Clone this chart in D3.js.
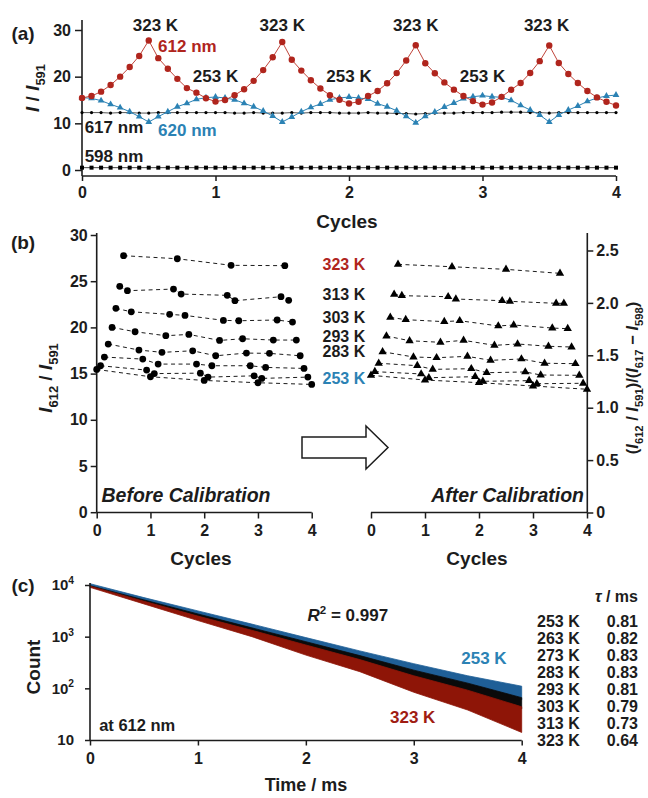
<!DOCTYPE html>
<html><head><meta charset="utf-8">
<script src="https://cdn.jsdelivr.net/npm/d3@7"></script>
<style>
body{margin:0;background:#fff}
svg text{font-family:"Liberation Sans",Arial,Helvetica,sans-serif;font-weight:bold}
</style></head>
<body><svg id="c" width="648" height="798"></svg>
<script>
// ---------------- DATA ----------------
const stepsPerCycle = 14;
const temps = [253, 263, 273, 283, 293, 303, 313, 323];
// (a) I/I591 at 612 nm (also panel b, before calibration)
const ratio612 = [
  15.45, 15.85, 16.79, 18.20, 20.00, 22.06, 24.44, 27.76, 23.97, 21.69, 19.53, 17.55, 16.57, 15.38,
  14.66, 15.00, 16.03, 17.30, 19.10, 21.41, 24.15, 27.43, 23.61, 21.30, 19.24, 17.47, 16.03, 15.05,
  14.26, 14.62, 15.85, 16.93, 18.59, 20.76, 23.47, 26.72, 22.89, 20.72, 18.77, 17.22, 15.85, 14.76,
  14.01, 14.48, 15.67, 17.19, 18.63, 20.80, 23.32, 26.68, 22.93, 20.58, 18.63, 16.93, 15.56, 14.62,
  13.83];
const ratio620 = [
  15.50, 15.36, 14.86, 14.07, 13.36, 12.50, 11.43, 10.29, 11.43, 12.50, 13.57, 14.29, 15.14, 15.50,
  15.64, 15.43, 15.07, 14.29, 13.57, 12.64, 11.57, 10.29, 11.36, 12.50, 13.43, 14.14, 15.07, 15.43,
  15.64, 15.43, 15.21, 14.21, 13.57, 12.71, 11.50, 10.14, 11.50, 12.43, 13.50, 14.36, 15.29, 15.71,
  15.93, 15.71, 15.57, 14.93, 13.86, 12.86, 11.79, 10.29, 11.79, 12.86, 13.71, 14.71, 15.43, 15.86,
  16.07];
const ratio617 = [
  12.3, 12.3, 12.3, 12.2, 12.3, 12.3, 12.2, 12.2, 12.3, 12.3, 12.3, 12.3, 12.3, 12.3,
  12.3, 12.3, 12.2, 12.2, 12.3, 12.2, 12.2, 12.2, 12.3, 12.2, 12.3, 12.3, 12.3, 12.2,
  12.2, 12.2, 12.3, 12.2, 12.2, 12.1, 12.1, 12.0, 12.1, 12.2, 12.2, 12.2, 12.3, 12.3,
  12.3, 12.3, 12.4, 12.4, 12.4, 12.3, 12.3, 12.2, 12.3, 12.3, 12.3, 12.3, 12.3, 12.3,
  12.3];
const ratio598 = [
  0.5, 0.5, 0.5, 0.5, 0.5, 0.5, 0.5, 0.5, 0.5, 0.5, 0.5, 0.5, 0.5, 0.5,
  0.5, 0.5, 0.5, 0.5, 0.5, 0.5, 0.5, 0.5, 0.5, 0.5, 0.5, 0.5, 0.5, 0.5,
  0.5, 0.5, 0.5, 0.5, 0.5, 0.5, 0.5, 0.5, 0.5, 0.5, 0.5, 0.5, 0.5, 0.5,
  0.5, 0.5, 0.5, 0.5, 0.5, 0.5, 0.5, 0.5, 0.5, 0.5, 0.5, 0.5, 0.5, 0.5,
  0.5];
// (b) after calibration (I612/I591)/(I617-I598)
const calibrated = [
  1.309, 1.344, 1.424, 1.534, 1.684, 1.862, 2.082, 2.368, 2.069, 1.840, 1.639, 1.484, 1.401, 1.322,
  1.264, 1.286, 1.366, 1.477, 1.624, 1.821, 2.059, 2.345, 2.037, 1.830, 1.643, 1.490, 1.372, 1.296,
  1.239, 1.252, 1.334, 1.452, 1.595, 1.780, 2.021, 2.320, 2.015, 1.789, 1.608, 1.465, 1.341, 1.258,
  1.207, 1.229, 1.312, 1.424, 1.586, 1.760, 1.996, 2.282, 1.996, 1.754, 1.579, 1.420, 1.309, 1.233,
  1.176];
const labelledTemps = [323, 313, 303, 293, 283, 253];
// (c) decay envelopes (counts) at sampled times
const decayTime   = [0, 0.5, 1, 1.5, 2, 2.5, 3, 3.5, 4];
const band253Hi   = [10600, 5700, 3150, 1750, 960, 530, 300, 175, 110];
const band253Lo   = [9500, 4950, 2650, 1430, 760, 410, 215, 120, 60];
const bandMidHi   = [9700, 5150, 2750, 1480, 800, 430, 225, 126, 66];
const bandMidLo   = [9300, 4700, 2400, 1250, 640, 330, 162, 84, 40];
const band323Hi   = [9500, 4850, 2500, 1330, 690, 360, 175, 92, 44];
const band323Lo   = [9000, 4300, 2050, 1000, 440, 210, 84, 38, 14];
const tableTemps  = [253, 263, 273, 283, 293, 303, 313, 323];
const tau         = [0.81, 0.82, 0.83, 0.83, 0.81, 0.79, 0.73, 0.64];
const xTicks = [0, 1, 2, 3, 4];
const yTicksA = [0, 10, 20, 30];
const yTicksBL = [0, 5, 10, 15, 20, 25, 30];
const yTicksBR = [0, 0.5, 1.0, 1.5, 2.0, 2.5];
const yTicksC = [10, 100, 1000, 10000];

// ---------------- HELPERS ----------------
const INK = "#1c1c1c", RED = "#b0251d", BLUE = "#2b82b4";
const svg = d3.select("#c");
const cyc = i => i / stepsPerCycle;
const tempOf = i => { const p = i % stepsPerCycle; return temps[p <= 7 ? p : stepsPerCycle - p]; };

function rich(parent, x, y, parts, o = {}) {
  const size = o.size || 17;
  const t = parent.append("text")
    .attr("font-size", size).attr("text-anchor", o.anchor || "start").attr("fill", o.fill || INK)
    .attr("transform", `translate(${x},${y}) rotate(${o.rotate || 0}) translate(0,${0.36 * size})`);
  let shift = 0;
  parts.forEach(p => {
    const ts = t.append("tspan").text(p.t);
    if (p.it) ts.attr("font-style", "italic");
    const target = p.sub ? size * 0.32 : p.sup ? -size * 0.42 : 0;
    if (target !== shift) { ts.attr("dy", target - shift); shift = target; }
    if (p.sub || p.sup) ts.attr("font-size", size * 0.68);
  });
  return t;
}
function line(x1, y1, x2, y2, w = 1.6) {
  svg.append("line").attr("x1", x1).attr("y1", y1).attr("x2", x2).attr("y2", y2)
    .attr("stroke", INK).attr("stroke-width", w);
}
function styleAxis(g, size) {
  g.select(".domain").remove();
  g.selectAll(".tick line").attr("stroke", INK).attr("stroke-width", 1.5);
  g.selectAll("text").attr("font-size", size).attr("fill", INK)
    .attr("font-family", '"Liberation Sans",Arial,sans-serif').attr("font-weight", "bold");
}

// ---------------- PANEL (a) ----------------
const xA = d3.scaleLinear([0, 4], [82, 616]);
const yA = d3.scaleLinear([0, 30], [170, 30]);
line(82, 176, 616, 176); line(82, 176, 82, 20);
styleAxis(svg.append("g").attr("transform", "translate(0,176)")
  .call(d3.axisBottom(xA).tickValues(xTicks).tickFormat(d3.format("d")).tickSize(5).tickPadding(6).tickSizeOuter(0)), 16);
styleAxis(svg.append("g").attr("transform", "translate(82,0)")
  .call(d3.axisLeft(yA).tickValues(yTicksA).tickFormat(d3.format("d")).tickSize(7).tickPadding(4).tickSizeOuter(0)), 16);

const idx = d3.range(ratio612.length);
const lnA = arr => d3.line().x(i => xA(cyc(i))).y(i => yA(arr[i]));
// 598 nm
svg.append("path").attr("d", lnA(ratio598)(idx)).attr("fill", "none").attr("stroke", "#444").attr("stroke-width", 1);
svg.selectAll(".sq").data(idx).join("rect").attr("x", i => xA(cyc(i)) - 2).attr("y", i => yA(ratio598[i]) - 2)
  .attr("width", 4).attr("height", 4).attr("fill", "#000");
// 617 nm
svg.append("path").attr("d", lnA(ratio617)(idx)).attr("fill", "none").attr("stroke", "#555").attr("stroke-width", 1);
svg.selectAll(".dt").data(idx).join("circle").attr("cx", i => xA(cyc(i))).attr("cy", i => yA(ratio617[i]))
  .attr("r", 1.6).attr("fill", "#000");
// 620 nm
svg.append("path").attr("d", lnA(ratio620)(idx)).attr("fill", "none").attr("stroke", BLUE).attr("stroke-width", 1);
const triA = d3.symbol(d3.symbolTriangle, 20)();
svg.selectAll(".tr").data(idx).join("path").attr("d", triA)
  .attr("transform", i => `translate(${xA(cyc(i))},${yA(ratio620[i])})`).attr("fill", BLUE);
// 612 nm
svg.append("path").attr("d", lnA(ratio612)(idx)).attr("fill", "none").attr("stroke", "#c0443a").attr("stroke-width", 1);
svg.selectAll(".rc").data(idx).join("circle").attr("cx", i => xA(cyc(i))).attr("cy", i => yA(ratio612[i]))
  .attr("r", 3.2).attr("fill", RED);

// labels (a)
rich(svg, 23, 33, [{ t: "(a)" }], { size: 19, anchor: "middle" });
rich(svg, 32, 88, [{ t: "I", it: 1 }, { t: " / " }, { t: "I", it: 1 }, { t: "591", sub: 1 }], { size: 19, anchor: "middle", rotate: -90 });
rich(svg, (82 + 616) / 2 - 2, 221, [{ t: "Cycles" }], { size: 19, anchor: "middle" });
[0.55, 1.5, 2.5, 3.48].forEach(c => rich(svg, xA(c), yA(31), [{ t: "323 K" }], { size: 17, anchor: "middle" }));
[1, 2, 3].forEach(c => rich(svg, xA(c), yA(20.1), [{ t: "253 K" }], { size: 17, anchor: "middle" }));
rich(svg, xA(0.57), yA(26.7), [{ t: "612 nm" }], { size: 17, fill: RED });
rich(svg, xA(0.57), yA(8.6), [{ t: "620 nm" }], { size: 17, fill: BLUE });
rich(svg, xA(0.02), yA(9.3), [{ t: "617 nm" }], { size: 17 });
rich(svg, xA(0.02), yA(3.0), [{ t: "598 nm" }], { size: 17 });

// ---------------- PANEL (b) ----------------
const xBL = d3.scaleLinear([0, 4], [96.7, 311.7]);
const yBL = d3.scaleLinear([0, 30], [512.2, 235]);
const xBR = d3.scaleLinear([0, 4], [371, 587]);
const yBR = d3.scaleLinear([0, 2.5], [512.5, 250.5]);
line(96.7, 512.5, 311.7, 512.5); line(96.7, 512.5, 96.7, 233);
line(371, 512.5, 587.3, 512.5); line(587.3, 512.5, 587.3, 233);
styleAxis(svg.append("g").attr("transform", "translate(0,512.5)")
  .call(d3.axisBottom(xBL).tickValues(xTicks).tickFormat(d3.format("d")).tickSize(6).tickPadding(6).tickSizeOuter(0)), 16);
styleAxis(svg.append("g").attr("transform", "translate(96.7,0)")
  .call(d3.axisLeft(yBL).tickValues(yTicksBL).tickFormat(d3.format("d")).tickSize(6).tickPadding(3).tickSizeOuter(0)), 16);
styleAxis(svg.append("g").attr("transform", "translate(0,512.5)")
  .call(d3.axisBottom(xBR).tickValues(xTicks).tickFormat(d3.format("d")).tickSize(6).tickPadding(6).tickSizeOuter(0)), 16);
styleAxis(svg.append("g").attr("transform", "translate(587.3,0)")
  .call(d3.axisRight(yBR).tickValues(yTicksBR).tickFormat(d => d === 0 ? "0" : d3.format(".1f")(d)).tickSize(6).tickPadding(3).tickSizeOuter(0)), 16);

temps.forEach(T => {
  const pts = idx.filter(i => tempOf(i) === T);
  svg.append("path").attr("d", d3.line().x(i => xBL(cyc(i))).y(i => yBL(ratio612[i]))(pts))
    .attr("fill", "none").attr("stroke", INK).attr("stroke-width", 1).attr("stroke-dasharray", "4,3.5");
  svg.append("path").attr("d", d3.line().x(i => xBR(cyc(i))).y(i => yBR(calibrated[i]))(pts))
    .attr("fill", "none").attr("stroke", INK).attr("stroke-width", 1).attr("stroke-dasharray", "4,3.5");
});
svg.selectAll(".bc").data(idx).join("circle").attr("cx", i => xBL(cyc(i))).attr("cy", i => yBL(ratio612[i]))
  .attr("r", 3.4).attr("fill", "#000");
const triB = d3.symbol(d3.symbolTriangle, 30)();
svg.selectAll(".bt").data(idx).join("path").attr("d", triB)
  .attr("transform", i => `translate(${xBR(cyc(i))},${yBR(calibrated[i])})`).attr("fill", "#000");

labelledTemps.forEach(T => {
  const first = idx.find(i => tempOf(i) === T);
  rich(svg, 322.5, yBR(calibrated[first]) + (T === 253 ? 3 : 0), [{ t: T + " K" }],
    { size: 16, fill: T === 323 ? RED : T === 253 ? BLUE : INK });
});
// arrow
svg.append("path").attr("d", "M302,437H366V426L388,447.5L366,469V458H302Z")
  .attr("fill", "#fff").attr("stroke", INK).attr("stroke-width", 1.5);
rich(svg, 23, 242, [{ t: "(b)" }], { size: 19, anchor: "middle" });
rich(svg, 45, 378, [{ t: "I", it: 1 }, { t: "612", sub: 1 }, { t: " / " }, { t: "I", it: 1 }, { t: "591", sub: 1 }], { size: 19, anchor: "middle", rotate: -90 });
rich(svg, 632, 378, [{ t: "(" }, { t: "I", it: 1 }, { t: "612", sub: 1 }, { t: " / " }, { t: "I", it: 1 }, { t: "591", sub: 1 },
  { t: ")/(" }, { t: "I", it: 1 }, { t: "617", sub: 1 }, { t: " \u2212 " }, { t: "I", it: 1 }, { t: "598", sub: 1 }, { t: ")" }],
  { size: 16.5, anchor: "middle", rotate: -90 });
rich(svg, 201, 558, [{ t: "Cycles" }], { size: 19, anchor: "middle" });
rich(svg, 477, 558, [{ t: "Cycles" }], { size: 19, anchor: "middle" });
rich(svg, 101.5, 495, [{ t: "Before Calibration", it: 1 }], { size: 19.5 });
rich(svg, 584, 495, [{ t: "After Calibration", it: 1 }], { size: 19.5, anchor: "end" });

// ---------------- PANEL (c) ----------------
const xC = d3.scaleLinear([0, 4], [90, 521.7]);
const yC = d3.scaleLog([10, 10000], [740, 585]);
const bands = [[band253Hi, band253Lo, "#1f5f97"], [bandMidHi, bandMidLo, "#0a0a0a"], [band323Hi, band323Lo, "#8e1507"]];
bands.forEach(([hi, lo, col]) => {
  svg.append("path").attr("d", d3.area().x((d, i) => xC(decayTime[i])).y0((d, i) => yC(lo[i])).y1((d, i) => yC(hi[i]))(decayTime))
    .attr("fill", col).attr("stroke", col).attr("stroke-width", 0.8);
});
line(90, 740.5, 521.7, 740.5); line(90, 740.5, 90, 583);
styleAxis(svg.append("g").attr("transform", "translate(0,740.5)")
  .call(d3.axisBottom(xC).tickValues(xTicks).tickFormat(d3.format("d")).tickSize(5).tickPadding(7).tickSizeOuter(0)), 16);
const gy = svg.append("g").attr("transform", "translate(90,0)")
  .call(d3.axisLeft(yC).tickValues(yTicksC).tickFormat("").tickSize(5).tickSizeOuter(0));
styleAxis(gy, 16);
yTicksC.forEach(v => {
  const e = Math.round(Math.log10(v));
  rich(svg, 74, yC(v), e === 1 ? [{ t: "10" }] : [{ t: "10" }, { t: String(e), sup: 1 }], { size: 15, anchor: "end" });
});
rich(svg, 23, 585, [{ t: "(c)" }], { size: 19, anchor: "middle" });
rich(svg, 33, 667, [{ t: "Count" }], { size: 19, anchor: "middle", rotate: -90 });
rich(svg, 306, 785, [{ t: "Time / ms" }], { size: 18, anchor: "middle" });
rich(svg, xC(2.015), yC(2600), [{ t: "R", it: 1 }, { t: "2", sup: 1 }, { t: " = 0.997" }], { size: 17 });
rich(svg, xC(3.44), yC(390), [{ t: "253 K" }], { size: 17, fill: BLUE });
rich(svg, xC(2.78), yC(27.5), [{ t: "323 K" }], { size: 17, fill: "#a01c12" });
rich(svg, xC(0.085), yC(19.8), [{ t: "at 612 nm" }], { size: 16.5 });
rich(svg, 638, 596.7, [{ t: "\u03c4", it: 1 }, { t: " / ms" }], { size: 16, anchor: "end" });
tableTemps.forEach((T, k) => {
  const y = 621.7 + k * 16.9;
  rich(svg, 537, y, [{ t: T + " K" }], { size: 16 });
  rich(svg, 638, y, [{ t: tau[k].toFixed(2) }], { size: 16, anchor: "end" });
});
</script></body></html>
